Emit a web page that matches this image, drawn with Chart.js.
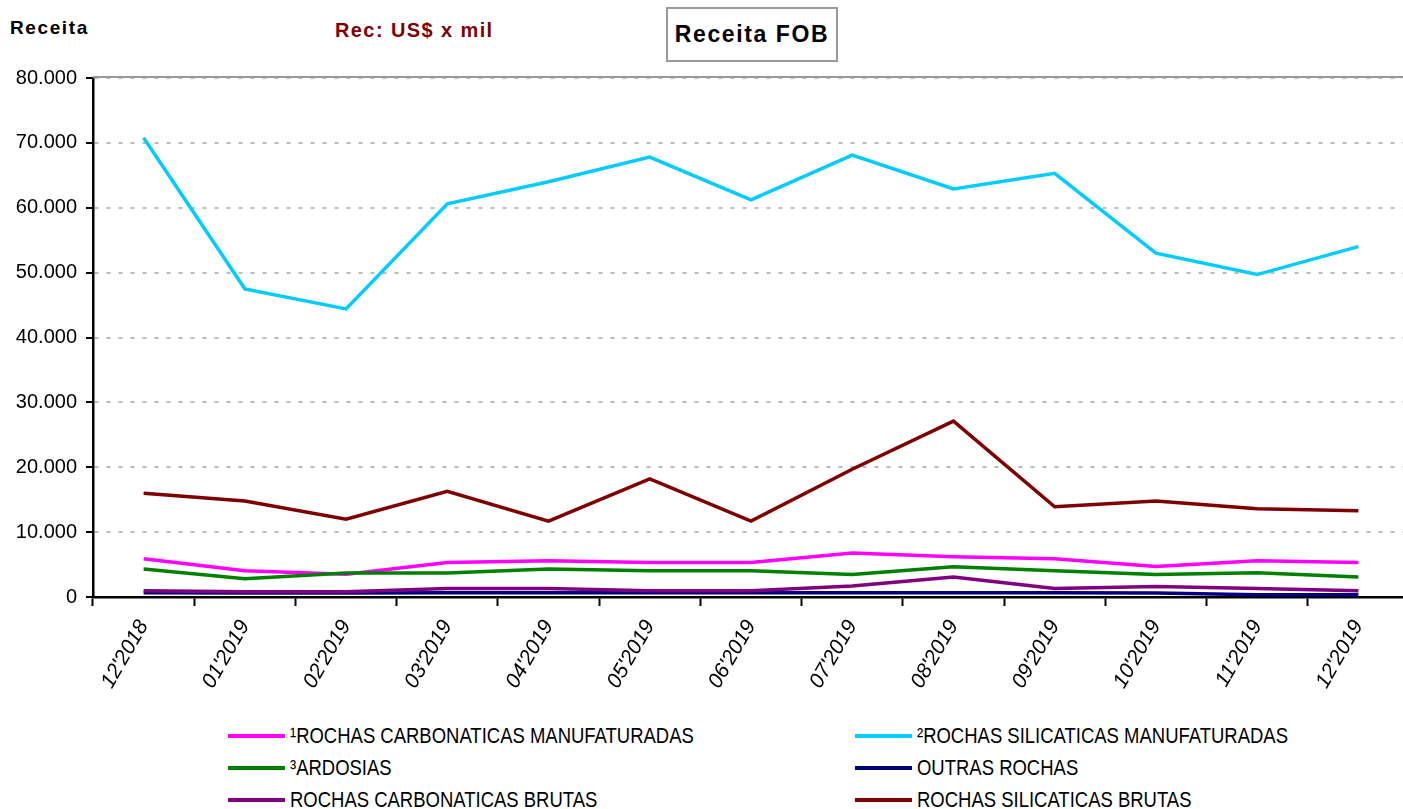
<!DOCTYPE html>
<html>
<head>
<meta charset="utf-8">
<script src="https://cdn.jsdelivr.net/npm/chart.js@4"></script>
<style>
    html, body { margin: 0; padding: 0; background: #fff; overflow: hidden; }
    body { width: 1403px; height: 809px; position: relative; font-family: Arial, "Liberation Sans", sans-serif; }
    #wrap { position: absolute; left: 0; top: 0; width: 1412px; height: 720px; }
    .hdr { position: absolute; font-weight: bold; white-space: nowrap; }
    #lblReceita { left: 10px; top: 17px; font-size: 19px; letter-spacing: 1.6px; }
    #lblUnit { left: 335px; top: 19px; font-size: 20px; letter-spacing: 1.4px; color: #800000; }
    #titleBox { left: 666px; top: 7px; width: 168px; height: 51px; border: 2px solid #999; font-size: 23px;
                letter-spacing: 1.6px; display: flex; align-items: center; justify-content: center; }
    #legend { position: absolute; left: 228px; top: 722px; width: 1170px;
              display: grid; grid-template-columns: 627px 520px; row-gap: 5px; }
    .item { display: flex; align-items: center; height: 27px; white-space: nowrap; }
    .swatch { width: 57px; height: 4px; margin-right: 5px; flex: none; }
    .txt { display: inline-block; font-size: 22px; transform: scaleX(0.84); transform-origin: left center; }
</style>
</head>
<body>
<div class="hdr" id="lblReceita">Receita</div>
<div class="hdr" id="lblUnit">Rec: US$ x mil</div>
<div class="hdr" id="titleBox">Receita FOB</div>
<div id="wrap"><canvas id="chart"></canvas></div>
<div id="legend"></div>
<script>
// Months on the x axis
const months = ["12'2018", "01'2019", "02'2019", "03'2019", "04'2019", "05'2019", "06'2019",
                "07'2019", "08'2019", "09'2019", "10'2019", "11'2019", "12'2019"];

// Series values (US$ x mil)
const carbonaticasManuf = [5900, 4050, 3500, 5300, 5600, 5300, 5300, 6800, 6200, 5900, 4700, 5600, 5300];
const silicaticasManuf = [70800, 47500, 44400, 60600, 64000, 67800, 61200, 68100, 62900, 65300, 53000, 49700, 54000];
const ardosias = [4300, 2800, 3700, 3700, 4300, 4050, 4050, 3450, 4650, 4050, 3450, 3750, 3100];
const outrasRochas = [650, 600, 600, 650, 650, 650, 650, 650, 650, 650, 600, 350, 350];
const carbonaticasBrutas = [950, 800, 800, 1300, 1300, 950, 950, 1700, 3100, 1300, 1600, 1300, 950];
const silicaticasBrutas = [16000, 14800, 12000, 16300, 11700, 18200, 11700, 19700, 27100, 13900, 14800, 13600, 13300];

const seriesNames = ['¹ROCHAS CARBONATICAS MANUFATURADAS', '²ROCHAS SILICATICAS MANUFATURADAS', '³ARDOSIAS',
                     'OUTRAS ROCHAS', 'ROCHAS CARBONATICAS BRUTAS', 'ROCHAS SILICATICAS BRUTAS'];
const seriesValues = [carbonaticasManuf, silicaticasManuf, ardosias, outrasRochas, carbonaticasBrutas, silicaticasBrutas];
const seriesColors = ['#ff00ff', '#00ccff', '#008000', '#000080', '#800080', '#800000'];

const yTicks = [0, 10000, 20000, 30000, 40000, 50000, 60000, 70000, 80000];

// Solid grey line on top of the plot area
const topBorder = {
    id: 'topBorder',
    afterDraw(chart) {
        const ctx = chart.ctx;
        const area = chart.chartArea;
        ctx.save();
        ctx.strokeStyle = '#999';
        ctx.lineWidth = 2;
        ctx.beginPath();
        ctx.moveTo(area.left, area.top - 1);
        ctx.lineTo(area.right, area.top - 1);
        ctx.stroke();
        ctx.restore();
    }
};

const datasets = seriesNames.map((name, i) => ({
    label: name,
    data: seriesValues[i],
    borderColor: seriesColors[i],
    backgroundColor: seriesColors[i],
    borderWidth: 3.5,
    pointRadius: 0,
    tension: 0,
    order: seriesNames.length - i
}));

const chart = new Chart(document.getElementById('chart'), {
    type: 'line',
    data: { labels: months, datasets: datasets },
    options: {
        responsive: true,
        maintainAspectRatio: false,
        animation: false,
        layout: { padding: { top: 78, left: 0, right: 3, bottom: 0 } },
        plugins: {
            legend: { display: false },
            tooltip: { enabled: false }
        },
        scales: {
            x: {
                offset: true,
                grid: { offset: true, drawOnChartArea: false, drawTicks: true, tickLength: 9, tickColor: '#000', tickWidth: 2 },
                border: { color: '#000', width: 2.5 },
                ticks: {
                    color: '#000',
                    font: { family: 'Arial, "Liberation Sans", sans-serif', size: 21, style: 'italic' },
                    minRotation: 60,
                    maxRotation: 60,
                    autoSkip: false,
                    padding: 10
                },
                afterFit(scale) { scale.height = 123; }
            },
            y: {
                min: 0,
                max: 80000,
                afterBuildTicks(scale) { scale.ticks = yTicks.map(v => ({ value: v })); },
                grid: { color: '#bbb', lineWidth: 2, tickLength: 7, tickColor: '#000', tickWidth: 2 },
                border: { color: '#000', width: 2.5, dash: [4, 8] },
                ticks: {
                    color: '#000',
                    font: { family: 'Arial, "Liberation Sans", sans-serif', size: 20 },
                    padding: 9,
                    callback: v => v.toLocaleString('de-DE')
                },
                afterFit(scale) { scale.width = 93; }
            }
        }
    },
    plugins: [topBorder]
});

// Two-column legend built from the chart's datasets
const legendEl = document.getElementById('legend');
chart.data.datasets.forEach(ds => {
    const item = document.createElement('div');
    item.className = 'item';
    const sw = document.createElement('span');
    sw.className = 'swatch';
    sw.style.background = ds.borderColor;
    const txt = document.createElement('span');
    txt.className = 'txt';
    txt.textContent = ds.label;
    item.appendChild(sw);
    item.appendChild(txt);
    legendEl.appendChild(item);
});
</script>
</body>
</html>
